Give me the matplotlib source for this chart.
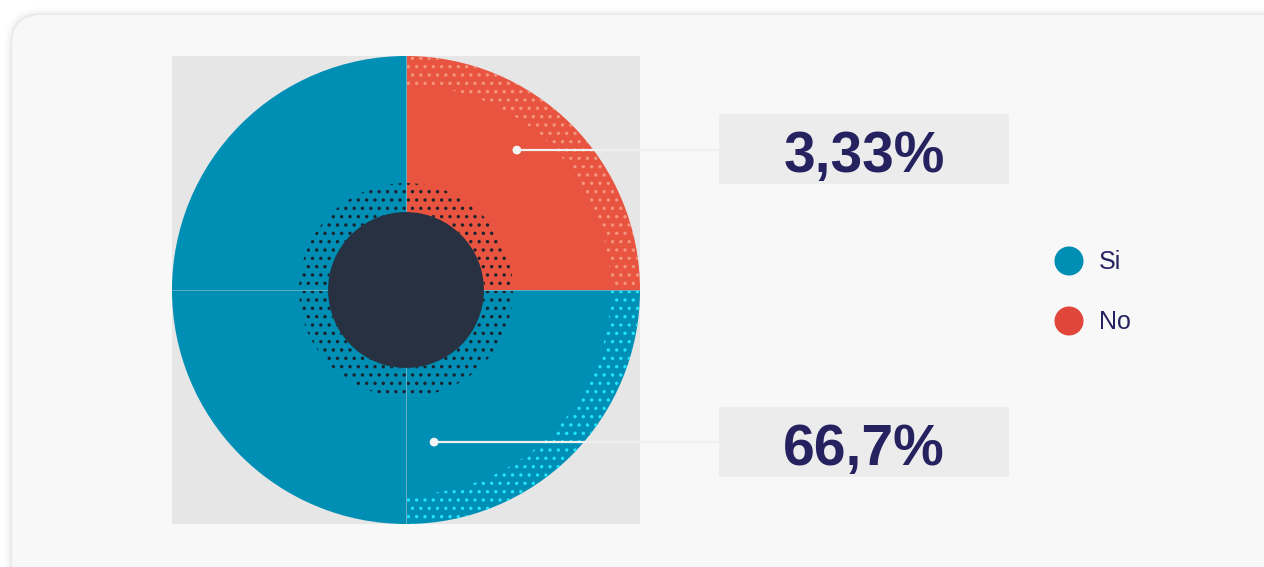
import matplotlib
matplotlib.use("Agg")
import numpy as np
import matplotlib.pyplot as plt
from matplotlib.patches import FancyBboxPatch, Circle, Rectangle

# datos del grafico
slice_series = ['No', 'Si', 'Si', 'Si']          # cuadrantes, empezando arriba a la derecha
slice_values = [25, 25, 25, 25]
slice_highlight = [True, True, False, False]
legend_labels = ['Si', 'No']
label_texts = ['3,33%', '66,7%']

colors = {'Si': '#008fb4', 'No': '#e8543f'}
legend_colors = {'Si': '#008fb4', 'No': '#e0463a'}
ring_dots = {'Si': '#22e4ff', 'No': '#f4957f'}
text_color = '#262260'

plt.rcParams['font.family'] = ['Liberation Sans', 'DejaVu Sans']
plt.rcParams['hatch.linewidth'] = 1.2

W, H = 1264, 567
fig = plt.figure(figsize=(W / 100, H / 100), dpi=100)
fig.patch.set_facecolor('white')

# capa de fondo en pixeles
bg = fig.add_axes([0, 0, 1, 1], zorder=0)
bg.set_xlim(0, W)
bg.set_ylim(H, 0)
bg.axis('off')

# sombra suave + tarjeta
for grow, a in [(8, 0.012), (5, 0.018), (3, 0.025), (1.5, 0.03)]:
    bg.add_patch(FancyBboxPatch((12 - grow, 15 - grow), 1300 + 2 * grow, 600 + 2 * grow,
                                boxstyle='round,pad=0,rounding_size=%d' % (30 + grow),
                                fc='black', ec='none', alpha=a))
bg.add_patch(FancyBboxPatch((12, 15), 1300, 600, boxstyle='round,pad=0,rounding_size=30',
                            fc='#f8f8f8', ec='none'))

# panel gris detras del pie
bg.add_patch(Rectangle((172, 56), 468, 468, fc='#e6e6e6', ec='none'))

# cajas de etiquetas
box_y = [114, 407]
for txt, y0 in zip(label_texts, box_y):
    bg.add_patch(Rectangle((719, y0), 290, 70, fc='#ececec', ec='none'))
    bg.text(864, y0 + 58, txt, ha='center', va='baseline', fontsize=41, fontweight='bold',
            color=text_color)

# leyenda
for i, lab in enumerate(legend_labels):
    y = 261 + 60 * i
    bg.scatter([1069], [y], s=29 ** 2 * 0.52, color=legend_colors[lab], edgecolors='none')
    bg.text(1099, y + 1, lab, ha='left', va='center', fontsize=18, color=text_color)

# pie
ax = fig.add_axes([172 / W, 1 - 524 / H, 468 / W, 468 / H], zorder=1)
wedges, _ = ax.pie(slice_values, colors=[colors[s] for s in slice_series], startangle=90,
                   counterclock=False, radius=1,
                   wedgeprops=dict(linewidth=0))

# separadores finos entre cuadrantes (solo radios)
bounds = 90 - 360 * np.cumsum([0] + slice_values[:-1]) / sum(slice_values)
for b in bounds:
    t = np.deg2rad(b)
    ax.plot([0, np.cos(t)], [0, np.sin(t)], color='#5fb0c6', lw=0.7, zorder=2)

# anillo punteado exterior en los cuadrantes destacados
outer, _ = ax.pie(slice_values, startangle=90, counterclock=False, radius=1,
                  wedgeprops=dict(width=0.125, facecolor='none', linewidth=0))
for w, s, hl in zip(outer, slice_series, slice_highlight):
    if hl:
        w.set_edgecolor(ring_dots[s])
        w.set_linewidth(0)
        w.set_hatch('..')
    else:
        w.set_visible(False)

# anillo punteado interior + centro
inner, _ = ax.pie([1], startangle=90, radius=0.457,
                  wedgeprops=dict(width=0.124, facecolor='none', linewidth=0))
inner[0].set_edgecolor('#1c222d')
inner[0].set_linewidth(0)
inner[0].set_hatch('..')
ax.add_patch(Circle((0, 0), 0.333, fc='#283142', ec='none', zorder=5))
ax.set_xlim(-1, 1)
ax.set_ylim(-1, 1)
ax.set_aspect('auto')

# lineas guia hacia las etiquetas
anchors = [(0.474, 0.598), (0.12, -0.65)]
x_end = (720 - 406) / 234
for (px, py) in anchors:
    ax.plot([px, x_end], [py, py], color='#f0f0f0', lw=1.6, clip_on=False, zorder=6)
    ax.scatter([px], [py], s=40, color='#f4f4f4', edgecolors='none', zorder=7, clip_on=False)

fig.savefig('out.png', dpi=100, facecolor='white')
